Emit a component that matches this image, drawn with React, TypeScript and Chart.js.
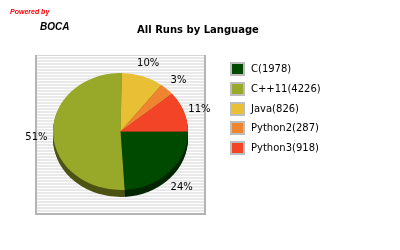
import React, { useEffect, useRef } from "react";
import { Chart, registerables } from "chart.js";

Chart.register(...registerables);

const languages = ["C", "C++11", "Java", "Python2", "Python3"];
const runs = [1978, 4226, 826, 287, 918];
const colors = ["#004a00", "#98a828", "#e9bf35", "#ef8431", "#f44428"];
const sideColors = ["#002600", "#4c5414", "#75601b", "#784219", "#7a2214"];
const titleText = "All Runs by Language";
const poweredText = "Powered by";
const brandText = "BOCA";

const SQUASH = 58.5 / 67.5;
const DEPTH = 7;

const bocaPlugin = {
  id: "boca",
  beforeDraw(chart: any) {
    const ctx = chart.ctx;
    ctx.save();
    ctx.fillStyle = "#ffffff";
    ctx.fillRect(0, 0, 400, 250);
    // striped plot box
    const bx = 36, by = 55, bw = 169, bh = 159;
    ctx.fillStyle = "#e9e9e9";
    ctx.fillRect(bx, by, bw, bh);
    ctx.fillStyle = "#ffffff";
    for (let y = by + 1; y < by + bh; y += 3) ctx.fillRect(bx, y, bw, 1);
    ctx.fillStyle = "#d6d6d6";
    ctx.fillRect(bx, by, bw, 1);
    ctx.fillStyle = "#b4b4b4";
    ctx.fillRect(bx - 1, by, 2, bh + 1);
    ctx.fillRect(bx + bw - 1, by, 2, bh + 1);
    ctx.fillRect(bx - 1, by + bh - 1, bw + 1, 2);
    // branding
    ctx.fillStyle = "#ff0000";
    ctx.font = "italic bold 7px 'Liberation Sans', Arial, sans-serif";
    ctx.textBaseline = "middle";
    ctx.textAlign = "left";
    ctx.fillText(poweredText, 10, 12);
    ctx.fillStyle = "#000000";
    ctx.font = "italic bold 10px 'Liberation Sans', Arial, sans-serif";
    ctx.fillText(brandText, 40, 27);
    // title
    ctx.font = "bold 10px 'DejaVu Sans', sans-serif";
    ctx.textAlign = "center";
    ctx.fillText(titleText, 198, 30);
    // legend
    ctx.font = "10px 'DejaVu Sans', sans-serif";
    ctx.textAlign = "left";
    languages.forEach((lang, i) => {
      const cy = 69 + i * 19.8;
      ctx.fillStyle = "#bdbdbd";
      ctx.fillRect(230, Math.round(cy - 7), 15, 14);
      ctx.fillStyle = colors[i];
      ctx.fillRect(232, Math.round(cy - 5), 11, 10);
      ctx.fillStyle = "#000000";
      ctx.fillText(`${lang}(${runs[i]})`, 251, cy + 0.5);
    });
    ctx.restore();
  },
  beforeDatasetsDraw(chart: any) {
    const ctx = chart.ctx;
    const meta = chart.getDatasetMeta(0);
    const first = meta.data[0];
    const cx = first.x, cy = first.y;
    ctx.save();
    ctx.translate(cx, cy);
    ctx.scale(1, SQUASH);
    ctx.translate(-cx, -cy);
    for (let d = DEPTH; d >= 1; d--) {
      meta.data.forEach((arc: any, i: number) => {
        const off = d / SQUASH;
        ctx.beginPath();
        ctx.moveTo(arc.x, arc.y + off);
        ctx.arc(arc.x, arc.y + off, arc.outerRadius, arc.startAngle, arc.endAngle);
        ctx.closePath();
        ctx.fillStyle = sideColors[i];
        ctx.fill();
      });
    }
  },
  afterDatasetsDraw(chart: any) {
    const ctx = chart.ctx;
    ctx.restore();
    const meta = chart.getDatasetMeta(0);
    const total = runs.reduce((a, b) => a + b, 0);
    ctx.save();
    ctx.font = "10px 'DejaVu Sans', sans-serif";
    ctx.fillStyle = "#000000";
    ctx.textAlign = "center";
    ctx.textBaseline = "middle";
    meta.data.forEach((arc: any, i: number) => {
      const mid = (arc.startAngle + arc.endAngle) / 2;
      const r = arc.outerRadius;
      const x = arc.x + Math.cos(mid) * r * 1.245;
      const y = arc.y + Math.sin(mid) * r * 1.13 + 3.9;
      ctx.fillText(`${Math.round((runs[i] / total) * 100)}%`, x, y);
    });
    ctx.restore();
  },
};

export default function App() {
  const ref = useRef<HTMLCanvasElement>(null);
  useEffect(() => {
    const chart = new Chart(ref.current as HTMLCanvasElement, {
      type: "pie",
      data: {
        labels: languages,
        datasets: [{ data: runs, backgroundColor: colors, borderWidth: 0 }],
      },
      options: {
        responsive: false,
        animation: false,
        rotation: 90,
        events: [],
        layout: { padding: { left: 53, right: 212, top: 64, bottom: 51 } },
        plugins: {
          legend: { display: false },
          title: { display: false },
          tooltip: { enabled: false },
        },
      },
      plugins: [bocaPlugin],
    });
    return () => chart.destroy();
  }, []);
  return (
    <div style={{ position: "fixed", left: 0, top: 0, width: 400, height: 250, background: "#fff" }}>
      <canvas ref={ref} width={400} height={250} style={{ width: 400, height: 250, display: "block" }} />
    </div>
  );
}
